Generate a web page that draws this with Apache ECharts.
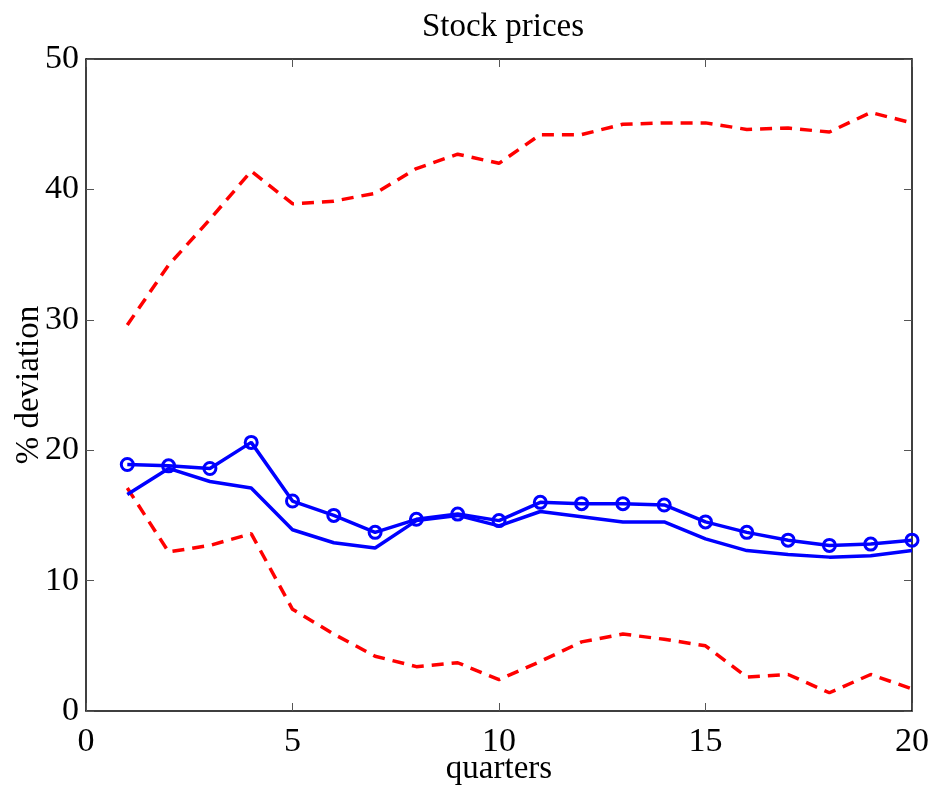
<!DOCTYPE html>
<html>
<head>
<meta charset="utf-8">
<script src="https://cdn.jsdelivr.net/npm/echarts@6/dist/echarts.min.js"></script>
<style>
  html, body { margin: 0; padding: 0; background: #fff; }
  #chart { width: 931px; height: 787px; }
</style>
</head>
<body>
<div id="chart"></div>
<script>
// Quarters after the shock
const quarters = [1, 2, 3, 4, 5, 6, 7, 8, 9, 10, 11, 12, 13, 14, 15, 16, 17, 18, 19, 20];

// Response with circle markers
const responseMarked = [18.9, 18.8, 18.6, 20.6, 16.1, 15.0, 13.7, 14.7, 15.1, 14.6,
                        16.0, 15.9, 15.9, 15.8, 14.5, 13.7, 13.1, 12.7, 12.8, 13.1];
// Response, plain line
const responsePlain = [16.6, 18.6, 17.6, 17.1, 13.9, 12.9, 12.5, 14.6, 15.0, 14.2,
                       15.3, 14.9, 14.5, 14.5, 13.2, 12.3, 12.0, 11.8, 11.9, 12.3];
// Upper and lower bands
const bandUpper = [29.6, 34.2, 37.7, 41.4, 38.9, 39.1, 39.7, 41.6, 42.7, 42.0,
                   44.2, 44.2, 45.0, 45.1, 45.1, 44.6, 44.7, 44.4, 45.9, 45.1];
const bandLower = [17.1, 12.2, 12.7, 13.6, 7.8, 5.9, 4.2, 3.4, 3.7, 2.4,
                   3.8, 5.3, 5.9, 5.5, 5.0, 2.6, 2.8, 1.4, 2.8, 1.7];

const xTicks = [0, 5, 10, 15, 20];
const yTicks = [0, 10, 20, 30, 40, 50];

const pairs = arr => quarters.map((q, i) => [q, arr[i]]);

const font = '"Liberation Serif", "DejaVu Serif", serif';

const chart = echarts.init(document.getElementById('chart'), null, { renderer: 'canvas' });

const tickStyle = { show: true, inside: true, length: 8, lineStyle: { color: '#555', width: 1 } };

chart.setOption({
  backgroundColor: '#ffffff',
  animation: false,
  title: {
    text: 'Stock prices',
    left: 498, top: 6, textAlign: 'center',
    textStyle: { fontFamily: font, fontSize: 33, fontWeight: 'normal', color: '#000' }
  },
  grid: { left: 86, right: 19, top: 59, bottom: 76, containLabel: false, outerBoundsMode: 'none' },
  xAxis: [
    {
      type: 'value', min: xTicks[0], max: xTicks[xTicks.length - 1], interval: 5,
      name: 'quarters', nameLocation: 'middle', nameGap: 42, nameMoveOverlap: false,
      nameTextStyle: { fontFamily: font, fontSize: 33, color: '#000' },
      axisLine: { show: true, onZero: false, lineStyle: { color: '#000', width: 1.5 } },
      axisTick: tickStyle,
      axisLabel: { fontFamily: font, fontSize: 34, color: '#000', margin: 14 },
      splitLine: { show: false }
    },
    {
      type: 'value', position: 'top', min: 0, max: 20, interval: 5,
      axisLine: { show: true, onZero: false, lineStyle: { color: '#000', width: 1.5 } },
      axisTick: tickStyle, axisLabel: { show: false }, splitLine: { show: false }
    }
  ],
  yAxis: [
    {
      type: 'value', min: yTicks[0], max: yTicks[yTicks.length - 1], interval: 10,
      name: '% deviation', nameLocation: 'middle', nameGap: 40, nameRotate: 90, nameMoveOverlap: false,
      nameTextStyle: { fontFamily: font, fontSize: 33, color: '#000' },
      axisLine: { show: true, onZero: false, lineStyle: { color: '#000', width: 1.5 } },
      axisTick: tickStyle,
      axisLabel: { fontFamily: font, fontSize: 34, color: '#000', margin: 7 },
      splitLine: { show: false }
    },
    {
      type: 'value', position: 'right', min: 0, max: 50, interval: 10,
      axisLine: { show: true, onZero: false, lineStyle: { color: '#000', width: 1.5 } },
      axisTick: tickStyle, axisLabel: { show: false }, splitLine: { show: false }
    }
  ],
  series: [
    {
      name: 'upper', type: 'line', data: pairs(bandUpper), showSymbol: false,
      lineStyle: { color: '#ff0000', width: 3.5, type: [12, 8] }, z: 2
    },
    {
      name: 'lower', type: 'line', data: pairs(bandLower), showSymbol: false,
      lineStyle: { color: '#ff0000', width: 3.5, type: [12, 8] }, z: 2
    },
    {
      name: 'plain', type: 'line', data: pairs(responsePlain), showSymbol: false,
      lineStyle: { color: '#0000ff', width: 3.5 }, z: 3
    },
    {
      name: 'marked', type: 'line', data: pairs(responseMarked),
      symbol: 'circle', symbolSize: 12, showSymbol: true,
      itemStyle: { color: 'rgba(255,255,255,0)', borderColor: '#0000ff', borderWidth: 3 },
      lineStyle: { color: '#0000ff', width: 3.5 }, z: 4
    }
  ]
});
</script>
</body>
</html>
